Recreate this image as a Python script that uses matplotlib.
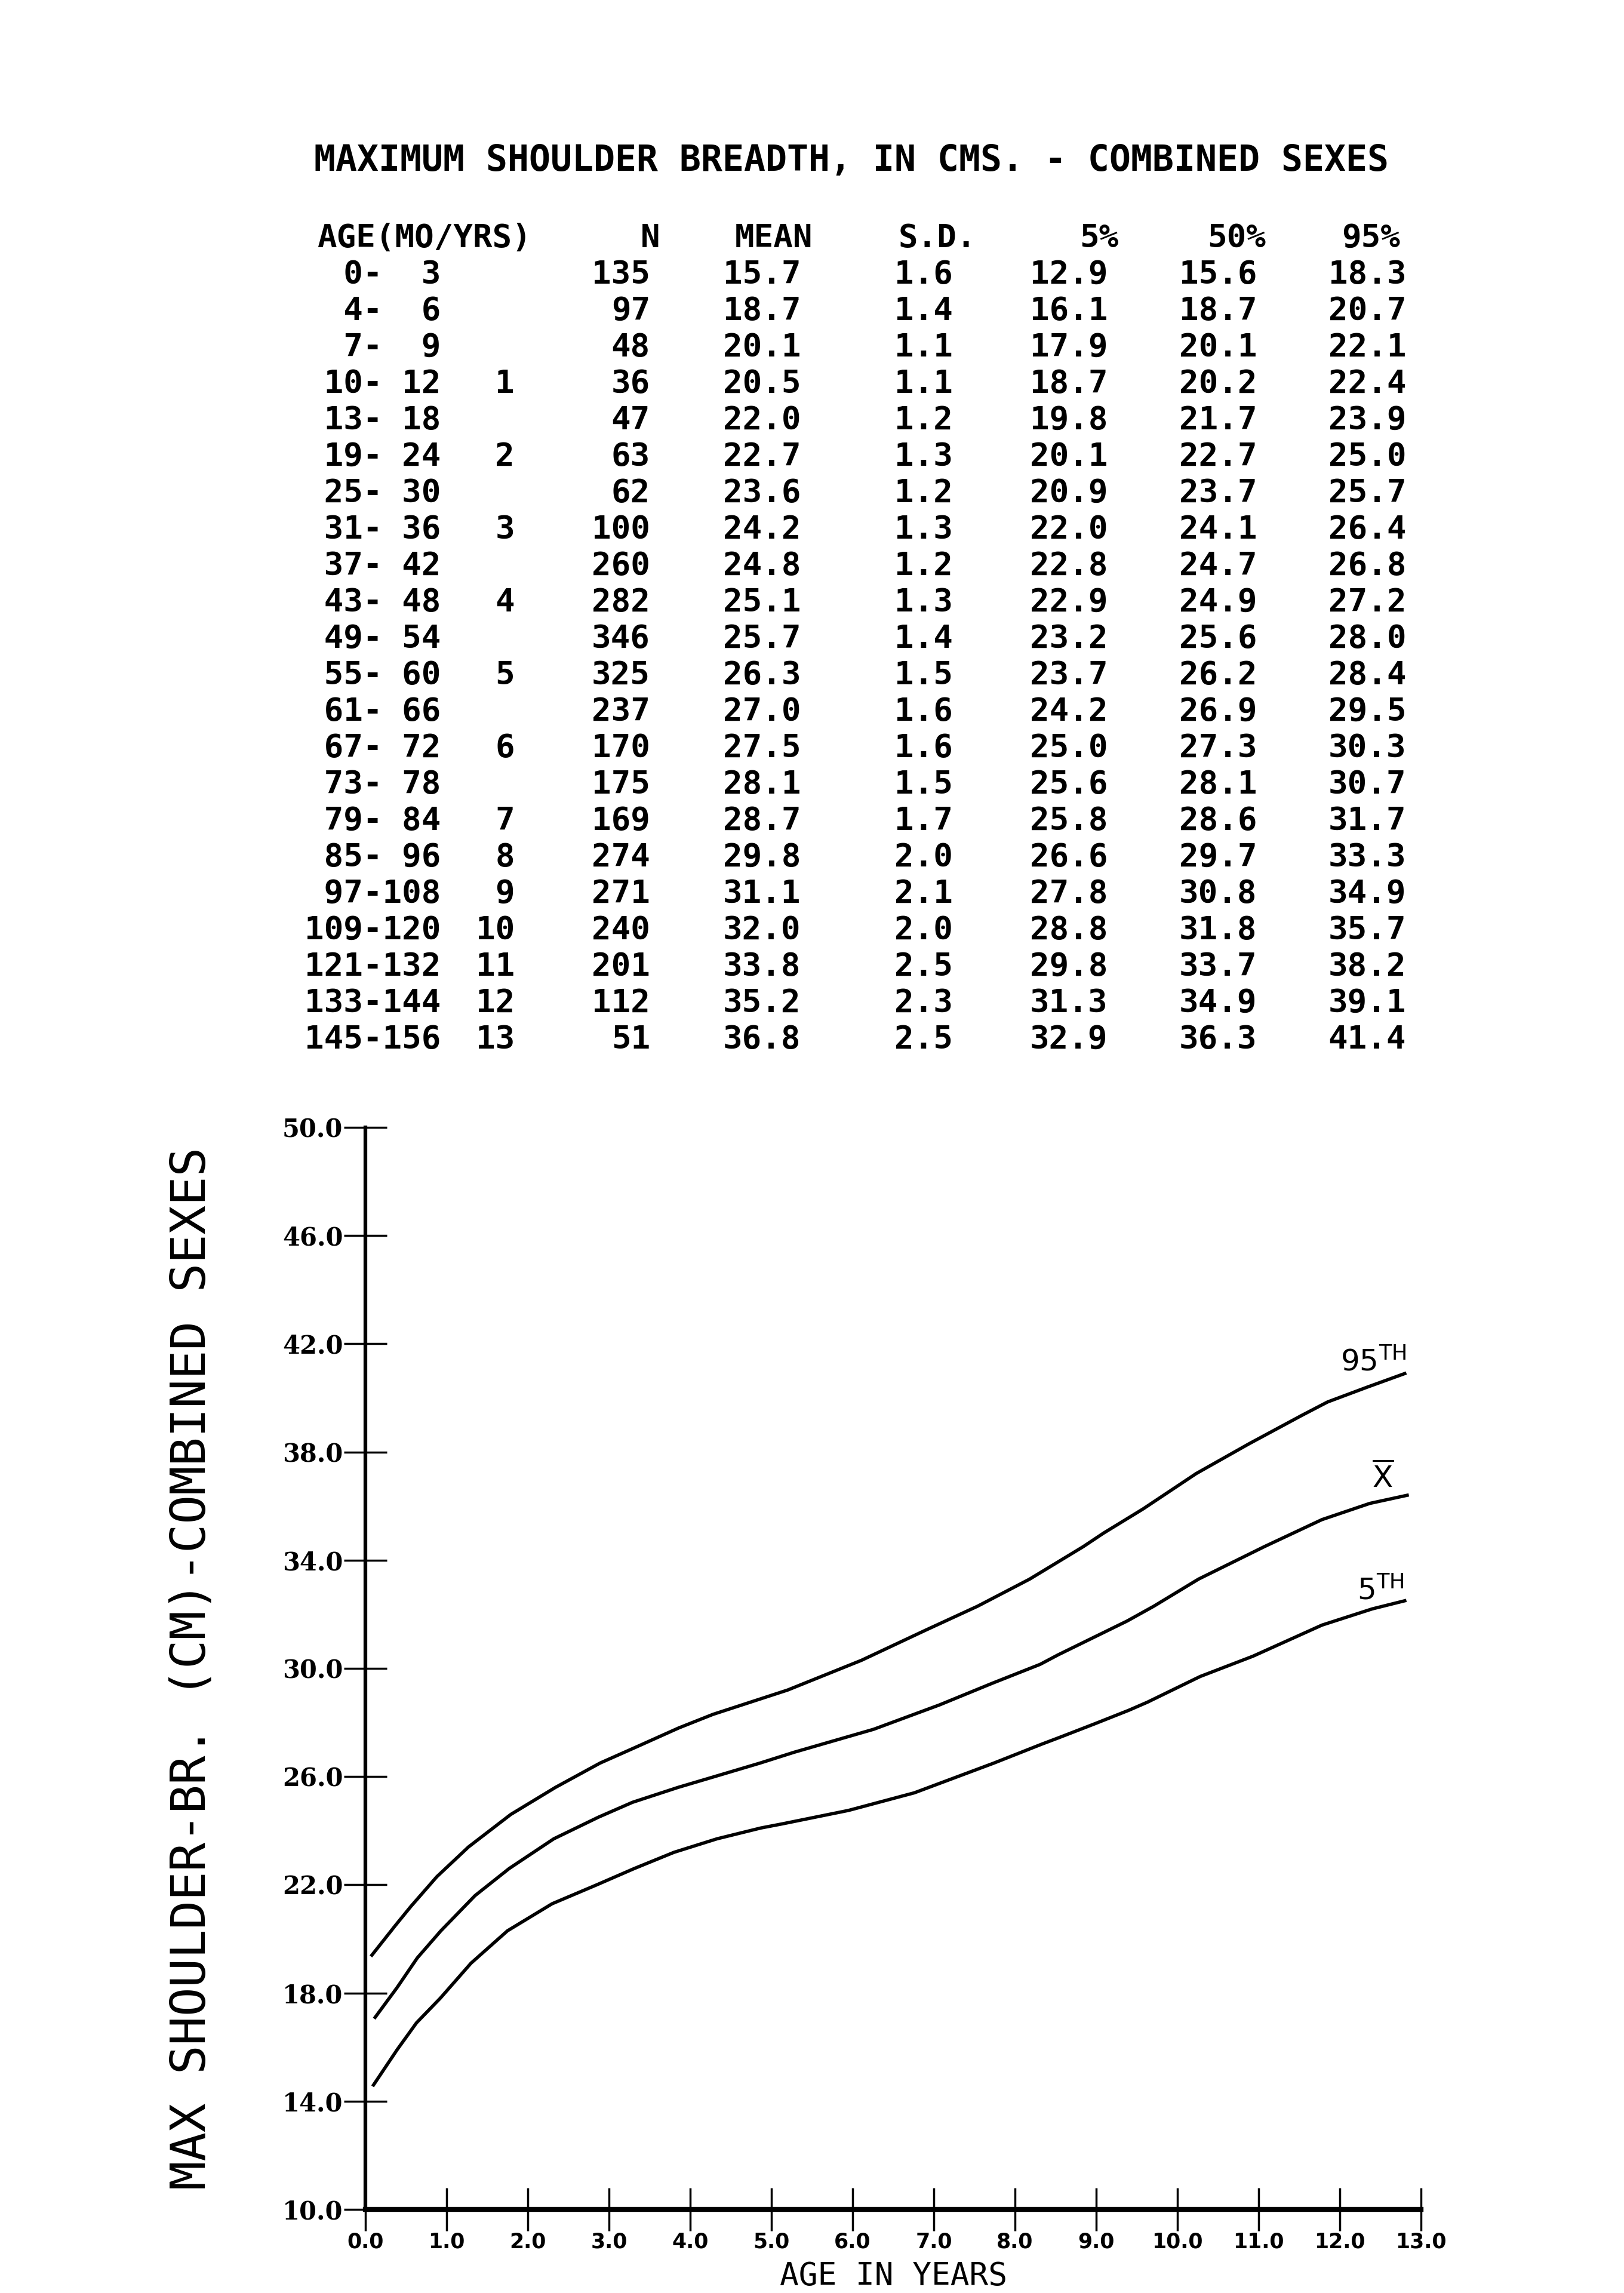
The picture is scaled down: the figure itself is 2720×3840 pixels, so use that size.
import matplotlib
matplotlib.use("Agg")
import matplotlib.pyplot as plt

# table values (age groups in months, year marks, and statistics)
age_lo = [0, 4, 7, 10, 13, 19, 25, 31, 37, 43, 49, 55, 61, 67, 73, 79, 85, 97, 109, 121, 133, 145]
age_hi = [3, 6, 9, 12, 18, 24, 30, 36, 42, 48, 54, 60, 66, 72, 78, 84, 96, 108, 120, 132, 144, 156]
age_yrs = ["", "", "", "1", "", "2", "", "3", "", "4", "", "5", "", "6", "", "7", "8", "9", "10", "11", "12", "13"]
n_obs = [135, 97, 48, 36, 47, 63, 62, 100, 260, 282, 346, 325, 237, 170, 175, 169, 274, 271, 240, 201, 112, 51]
mean = [15.7, 18.7, 20.1, 20.5, 22.0, 22.7, 23.6, 24.2, 24.8, 25.1, 25.7, 26.3, 27.0, 27.5, 28.1, 28.7, 29.8, 31.1, 32.0, 33.8, 35.2, 36.8]
sd = [1.6, 1.4, 1.1, 1.1, 1.2, 1.3, 1.2, 1.3, 1.2, 1.3, 1.4, 1.5, 1.6, 1.6, 1.5, 1.7, 2.0, 2.1, 2.0, 2.5, 2.3, 2.5]
p5 = [12.9, 16.1, 17.9, 18.7, 19.8, 20.1, 20.9, 22.0, 22.8, 22.9, 23.2, 23.7, 24.2, 25.0, 25.6, 25.8, 26.6, 27.8, 28.8, 29.8, 31.3, 32.9]
p50 = [15.6, 18.7, 20.1, 20.2, 21.7, 22.7, 23.7, 24.1, 24.7, 24.9, 25.6, 26.2, 26.9, 27.3, 28.1, 28.6, 29.7, 30.8, 31.8, 33.7, 34.9, 36.3]
p95 = [18.3, 20.7, 22.1, 22.4, 23.9, 25.0, 25.7, 26.4, 26.8, 27.2, 28.0, 28.4, 29.5, 30.3, 30.7, 31.7, 33.3, 34.9, 35.7, 38.2, 39.1, 41.4]

# smoothed curves (age in years, cm)
curve_age_95 = [0.08, 0.37, 0.56, 0.88, 1.27, 1.79, 2.34, 2.89, 3.34, 3.86, 4.28, 5.20, 6.11, 6.89,
                7.54, 8.18, 8.84, 9.09, 9.58, 10.23, 10.88, 11.53, 11.85, 12.34, 12.80]
curve_95 = [19.4, 20.5, 21.2, 22.3, 23.4, 24.6, 25.6, 26.5, 27.1, 27.8, 28.3, 29.2, 30.3, 31.4,
            32.3, 33.3, 34.5, 35.0, 35.9, 37.2, 38.3, 39.35, 39.85, 40.4, 40.9]
curve_age_mean = [0.12, 0.39, 0.64, 0.93, 1.35, 1.77, 2.32, 2.87, 3.29, 3.85, 4.30, 4.86, 5.28, 6.26,
                  7.07, 7.72, 8.31, 8.53, 9.38, 9.71, 10.26, 11.07, 11.78, 12.37, 12.83]
curve_mean = [17.1, 18.2, 19.3, 20.3, 21.6, 22.6, 23.7, 24.5, 25.05, 25.6, 26.0, 26.5, 26.9, 27.75,
              28.65, 29.45, 30.15, 30.5, 31.75, 32.3, 33.3, 34.5, 35.5, 36.1, 36.4]
curve_age_5 = [0.10, 0.39, 0.63, 0.92, 1.30, 1.75, 2.30, 2.85, 3.31, 3.80, 4.33, 4.87, 5.13, 5.95,
               6.76, 7.74, 8.33, 8.55, 8.98, 9.40, 9.63, 10.28, 10.93, 11.78, 12.40, 12.80]
curve_5 = [14.6, 15.9, 16.9, 17.8, 19.1, 20.3, 21.3, 22.0, 22.6, 23.2, 23.7, 24.1, 24.25, 24.75,
           25.4, 26.5, 27.2, 27.45, 27.95, 28.45, 28.75, 29.7, 30.45, 31.6, 32.2, 32.5]

x_ticks = list(range(0, 14))
y_ticks = list(range(10, 51, 4))

W, H = 2720, 3840
fig = plt.figure(figsize=(W / 100, H / 100), dpi=100)
fig.patch.set_facecolor("white")


def fx(px):
    return px / W


def fy(py):
    return 1 - py / H


mono = dict(family="DejaVu Sans Mono", fontweight="bold", color="black")

# ---- table ----
fig.text(fx(526), fy(269), "MAXIMUM SHOULDER BREADTH, IN CMS. - COMBINED SEXES",
         fontsize=43, ha="left", va="center", **mono)

header_y = 399
fig.text(fx(531), fy(header_y), "AGE(MO/YRS)", fontsize=39, ha="left", va="center", **mono)
headers = [("N", 1106), ("MEAN", 1361), ("S.D.", 1635), ("5%", 1873), ("50%", 2120), ("95%", 2345)]
for label, xr in headers:
    fig.text(fx(xr), fy(header_y), label, fontsize=39, ha="right", va="center", **mono)

row0, row_step = 460, 61.0
for i in range(len(age_lo)):
    y = fy(row0 + i * row_step)
    fig.text(fx(510), y, f"{age_lo[i]:3d}-{age_hi[i]:3d}", fontsize=39, ha="left", va="center", **mono)
    fig.text(fx(862), y, age_yrs[i], fontsize=39, ha="right", va="center", **mono)
    fig.text(fx(1089), y, f"{n_obs[i]}", fontsize=39, ha="right", va="center", **mono)
    fig.text(fx(1341), y, f"{mean[i]:.1f}", fontsize=39, ha="right", va="center", **mono)
    fig.text(fx(1596), y, f"{sd[i]:.1f}", fontsize=39, ha="right", va="center", **mono)
    fig.text(fx(1855), y, f"{p5[i]:.1f}", fontsize=39, ha="right", va="center", **mono)
    fig.text(fx(2105), y, f"{p50[i]:.1f}", fontsize=39, ha="right", va="center", **mono)
    fig.text(fx(2355), y, f"{p95[i]:.1f}", fontsize=39, ha="right", va="center", **mono)

# ---- chart ----
ax = fig.add_axes([fx(612), fy(3700), 1768 / W, 1812 / H])
ax.plot(curve_age_95, curve_95, color="black", lw=4)
ax.plot(curve_age_mean, curve_mean, color="black", lw=4)
ax.plot(curve_age_5, curve_5, color="black", lw=4)

ax.set_xlim(0, 13)
ax.set_ylim(10, 50)
ax.spines["top"].set_visible(False)
ax.spines["right"].set_visible(False)
ax.spines["left"].set_linewidth(4.5)
ax.spines["bottom"].set_linewidth(6)

ax.set_xticks(x_ticks)
ax.set_xticklabels([f"{v:.1f}" for v in x_ticks], fontsize=25, fontweight="bold")
ax.set_yticks(y_ticks)
ax.set_yticklabels([f"{v:.1f}" for v in y_ticks], fontsize=30, fontweight="bold", family="DejaVu Serif")
ax.tick_params(axis="both", direction="inout", length=52, width=2.5, pad=1)

ax.set_ylabel("MAX SHOULDER-BR. (CM)-COMBINED SEXES", fontsize=58, family="DejaVu Sans Mono", va="center")
ax.yaxis.set_label_coords((322 - 612) / 1768, 0.5)
ax.set_xlabel("AGE IN YEARS", fontsize=38, family="DejaVu Sans Mono", va="top")
ax.xaxis.set_label_coords(0.5, -(3786 - 3700) / 1812)

ax.text(12.82, 41.0, r"95$^{\mathrm{TH}}$", fontsize=36, ha="right", va="baseline")
ax.text(12.53, 36.7, r"$\overline{\mathrm{X}}$", fontsize=36, ha="center", va="baseline")
ax.text(12.79, 32.55, r"5$^{\mathrm{TH}}$", fontsize=36, ha="right", va="baseline")

fig.savefig("out.png", dpi=100, facecolor="white")
